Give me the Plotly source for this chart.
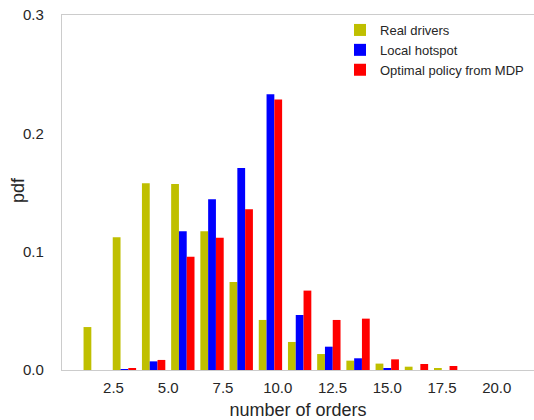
import numpy as np
import plotly.graph_objects as go

# Histogram bins: 15 equal bins spanning 1..21 orders
bin_edges = np.linspace(1, 21, 16)
bin_centers = (bin_edges[:-1] + bin_edges[1:]) / 2

# Normalised frequencies (pdf) per bin for each scenario
real_drivers = [0.0363, 0.1122, 0.1578, 0.1572, 0.1172, 0.0744, 0.0423,
                0.0237, 0.0135, 0.0079, 0.0054, 0.0028, 0.0017, 0.0, 0.0]
local_hotspot = [0.0, 0.0005, 0.0073, 0.1172, 0.1443, 0.1708, 0.2330,
                 0.0465, 0.0197, 0.0099, 0.0014, 0.0, 0.0, 0.0, 0.0]
optimal_mdp = [0.0, 0.0013, 0.0085, 0.0958, 0.1118, 0.1358, 0.2285,
               0.0671, 0.0423, 0.0434, 0.0090, 0.0051, 0.0034, 0.0, 0.0]

series = [
    ("Real drivers", real_drivers, "#bfbf00"),
    ("Local hotspot", local_hotspot, "#0000ff"),
    ("Optimal policy from MDP", optimal_mdp, "#ff0000"),
]

x_ticks = [2.5, 5.0, 7.5, 10.0, 12.5, 15.0, 17.5, 20.0]
y_ticks = [0.0, 0.1, 0.2, 0.3]

fig = go.Figure()
for name, vals, color in series:
    fig.add_trace(go.Bar(
        x=bin_centers, y=vals, name=name,
        marker=dict(color=color, line=dict(width=0)),
    ))

font = "Liberation Sans, Arial, sans-serif"
spine = "#cccccc"

fig.update_layout(
    width=534, height=420,
    margin=dict(l=62, r=0, t=15, b=50),
    paper_bgcolor="white", plot_bgcolor="white",
    barmode="group", bargap=0.2, bargroupgap=0,
    font=dict(family=font, color="#262626"),
    showlegend=True,
    legend=dict(
        x=0.589, y=1.0, xanchor="left", yanchor="top",
        bgcolor="rgba(0,0,0,0)", font=dict(size=13, color="#262626"),
        traceorder="normal",
    ),
    xaxis=dict(
        range=[0.15, 21.7],
        tickvals=x_ticks, ticktext=[f"{v:.1f}" for v in x_ticks],
        tickfont=dict(size=15),
        ticks="outside", ticklen=4, tickcolor="rgba(0,0,0,0)",
        showgrid=False, zeroline=False,
        showline=True, linecolor=spine, linewidth=1.25, mirror=True,
        title=dict(text="number of orders", font=dict(size=18), standoff=8),
    ),
    yaxis=dict(
        range=[0, 0.3],
        tickvals=y_ticks, ticktext=[f"{v:.1f}" for v in y_ticks],
        tickfont=dict(size=15),
        ticks="", ticklabelstandoff=14,
        showgrid=False, zeroline=False,
        showline=True, linecolor=spine, linewidth=1.25,
    ),
    annotations=[dict(
        text="pdf", textangle=-90, showarrow=False,
        xref="paper", yref="paper", x=-0.093, y=0.507,
        xanchor="center", yanchor="middle",
        font=dict(size=18, color="#262626"),
    )],
)

fig.write_html("out.html")
